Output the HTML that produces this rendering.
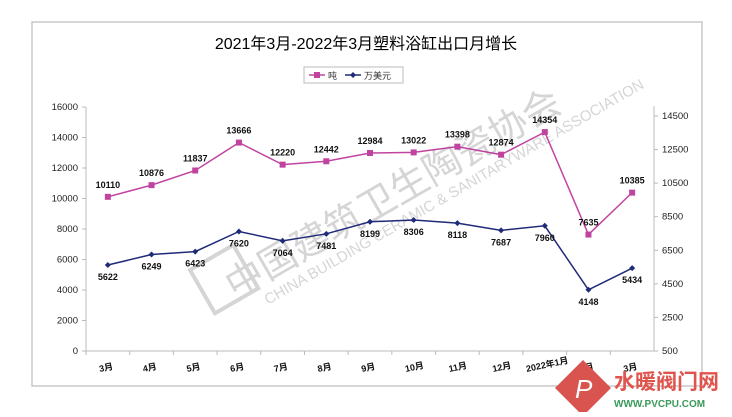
<!DOCTYPE html>
<html><head><meta charset="utf-8"><style>
body{margin:0;background:#fff;width:732px;height:412px;overflow:hidden;font-family:"Liberation Sans","Noto Sans CJK SC",sans-serif}
svg text{font-family:"Liberation Sans","Noto Sans CJK SC",sans-serif}
</style></head><body>
<svg id="c" width="732" height="412">
<rect x="32" y="22" width="670" height="364" fill="#fff" stroke="#c8c8c8" stroke-width="1.5"/>
<text x="366" y="49" text-anchor="middle" font-size="16" fill="#000" font-family="Liberation Serif,Noto Serif CJK SC,serif">2021年3月-2022年3月塑料浴缸出口月增长</text>
<g>
<rect x="304" y="67" width="99" height="16" fill="#fff" stroke="#bbb"/>
<g><line x1="309" y1="75" x2="325" y2="75" stroke="#c0449f" stroke-width="1.5"/><rect x="314" y="72" width="6" height="6" fill="#c0449f"/><text x="328" y="79" font-size="9" fill="#333">吨</text></g>
<g><line x1="345" y1="75" x2="361" y2="75" stroke="#1f2a78" stroke-width="1.5"/><path d="M353 72 L356 75 L353 78 L350 75Z" fill="#1f2a78"/><text x="364" y="79" font-size="9" fill="#333">万美元</text></g>
</g>
<g id="wm" opacity="0.35">
<text x="0" y="0" font-size="38" fill="#888" transform="translate(235,300) rotate(-30)">中国建筑卫生陶瓷协会</text>
<text x="0" y="0" font-size="15" fill="#888" transform="translate(268,305) rotate(-30)">CHINA BUILDING CERAMIC &amp; SANITARYWARE ASSOCIATION</text>
<rect x="0" y="0" width="50" height="50" fill="none" stroke="#888" stroke-width="4" transform="translate(190,270) rotate(-30)"/>
</g>
<g id="axes"></g>
<g id="marks"></g>
<g>
<path d="M583 360 L611 388 L583 416 L555 388Z" fill="#d9534f"/>
<text x="575" y="398" font-size="26" fill="#fff" font-style="italic" font-family="Liberation Serif,serif">P</text>
<text x="614" y="389" font-size="21" fill="#e0544e" font-weight="bold">水暖阀门网</text>
<text x="614" y="407" font-size="10" fill="#3a9a5a" font-weight="bold">WWW.PVCPU.COM</text>
</g>
</svg>
<script>
const categories=["3月","4月","5月","6月","7月","8月","9月","10月","11月","12月","2022年1月","2月","3月"];
const tonValues=[10110,10876,11837,13666,12220,12442,12984,13022,13398,12874,14354,7635,10385];
const usdValues=[5622,6249,6423,7620,7064,7481,8199,8306,8118,7687,7960,4148,5434];
const leftTicks=[0,2000,4000,6000,8000,10000,12000,14000,16000];
const rightTicks=[500,2500,4500,6500,8500,10500,12500,14500];
const NS="http://www.w3.org/2000/svg";
const X0=86,X1=654,Y0=351,YT=107,YR=116;
const band=(X1-X0)/categories.length;
const xs=i=>X0+band*(i+0.5);
const yl=v=>Y0-(v/16000)*(Y0-YT);
const yr=v=>Y0-((v-500)/14000)*(Y0-YR);
function mk(tag,attrs,parent,txt){const e=document.createElementNS(NS,tag);for(const k in attrs)e.setAttribute(k,attrs[k]);if(txt!==undefined)e.textContent=txt;parent.appendChild(e);return e;}
const ax=document.getElementById('axes'),mg=document.getElementById('marks');
let e;
e=mk('line',{x1:X0,y1:YT,x2:X0,y2:Y0,stroke:'#bbb'},ax);


e=mk('line',{x1:X1,y1:YR-10,x2:X1,y2:Y0,stroke:'#bbb'},ax);


e=mk('line',{x1:X0,y1:Y0,x2:X1,y2:Y0,stroke:'#bbb'},ax);


leftTicks.forEach(t=>{const y=yl(t);mk('line',{x1:X0-4,y1:y,x2:X0,y2:y,stroke:'#bbb'},ax);
e=mk('text',{x:X0-8,y:y+3,'text-anchor':'end','font-size':9.5,fill:'#222'},ax,t);

});
rightTicks.forEach(t=>{const y=yr(t);mk('line',{x1:X1,y1:y,x2:X1+4,y2:y,stroke:'#bbb'},ax);
e=mk('text',{x:X1+8,y:y+3,'font-size':9.5,fill:'#222'},ax,t);

});
categories.forEach((c,i)=>{const x=X0+band*i;mk('line',{x1:x,y1:Y0,x2:x,y2:Y0+4,stroke:'#bbb'},ax);
const cx=xs(i)-(c.length>3?18:8);
e=mk('text',{x:cx,y:372,'font-size':9,'font-weight':'bold',fill:'#111',transform:`rotate(-12 ${cx} 372)`},ax,c);

});
e=mk('polyline',{points:tonValues.map((v,i)=>xs(i)+','+yl(v)).join(' '),fill:'none',stroke:'#c0449f','stroke-width':1.5},mg);


e=mk('polyline',{points:usdValues.map((v,i)=>xs(i)+','+yr(v)).join(' '),fill:'none',stroke:'#1f2a78','stroke-width':1.5},mg);


tonValues.forEach((v,i)=>{const x=xs(i),y=yl(v);
e=mk('rect',{x:x-3,y:y-3,width:6,height:6,fill:'#c0449f'},mg);


e=mk('text',{x:x,y:y-9,'text-anchor':'middle','font-size':9,'font-weight':'bold',fill:'#111'},mg,v);

});
usdValues.forEach((v,i)=>{const x=xs(i),y=yr(v);
e=mk('path',{d:`M${x} ${y-3}L${x+3} ${y}L${x} ${y+3}L${x-3} ${y}Z`,fill:'#1f2a78'},mg);


e=mk('text',{x:x,y:y+15,'text-anchor':'middle','font-size':9,'font-weight':'bold',fill:'#111'},mg,v);

});
</script>
</body></html>
